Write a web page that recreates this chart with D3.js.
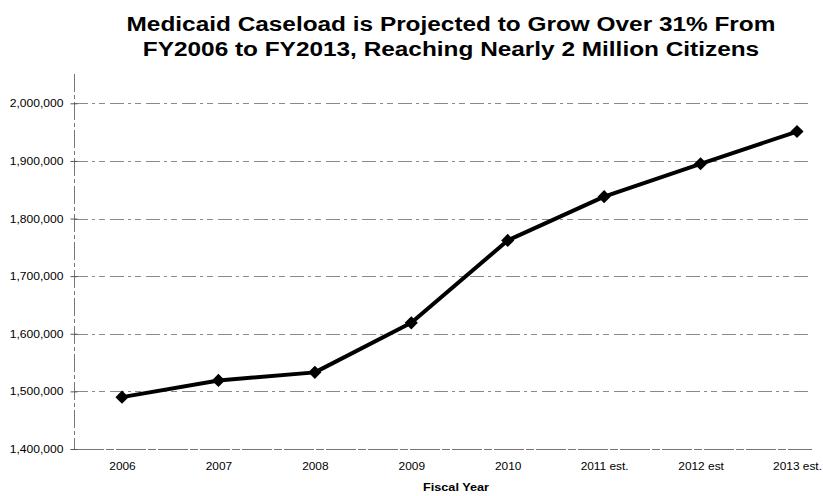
<!DOCTYPE html>
<html>
<head>
<meta charset="utf-8">
<script src="https://cdn.jsdelivr.net/npm/d3@7"></script>
<style>
  html, body { margin: 0; padding: 0; background: #fff; }
  svg { display: block; font-family: "Liberation Sans", Arial, sans-serif; }
</style>
</head>
<body>
<svg id="chart" width="823" height="496"></svg>
<script>
// Fiscal years and Medicaid caseload (actual through 2010, estimates after)
const years = ["2006", "2007", "2008", "2009", "2010", "2011 est.", "2012 est", "2013 est."];
const caseload = [1490000, 1519000, 1533000, 1619000, 1762000, 1838000, 1895000, 1951000];
const yTicks = [1400000, 1500000, 1600000, 1700000, 1800000, 1900000, 2000000];
const titleLines = [
  "Medicaid Caseload is Projected to Grow Over 31% From",
  "FY2006 to FY2013, Reaching Nearly 2 Million Citizens"
];
const xTitle = "Fiscal Year";

const svg = d3.select("#chart");
const plot = { left: 74, right: 812, top: 74, bottom: 449 };

const x = d3.scalePoint().domain(years).range([122, 797]);
const y = d3.scaleLinear().domain([1400000, 2050000]).range([plot.bottom, plot.top + 0.5]);

// Widen text glyphs horizontally by a factor (the chart uses a wide bold face)
function widen(sel, factor) {
  sel.each(function () {
    const w = this.getComputedTextLength();
    d3.select(this).attr("textLength", w * factor).attr("lengthAdjust", "spacingAndGlyphs");
  });
}

// Title
const title = svg.append("g").selectAll("text").data(titleLines).join("text")
  .attr("x", 451).attr("y", (d, i) => 31 + i * 25)
  .attr("text-anchor", "middle")
  .attr("font-size", 19.5).attr("font-weight", "bold").attr("fill", "#000")
  .text(d => d);
widen(title, 1.25);

// Horizontal gridlines
svg.append("g").selectAll("line").data(yTicks.slice(1)).join("line")
  .attr("x1", plot.left).attr("x2", plot.right)
  .attr("y1", d => Math.round(y(d)) + 0.5).attr("y2", d => Math.round(y(d)) + 0.5)
  .attr("stroke", "#8a8a8a").attr("stroke-width", 1)
  .attr("stroke-dasharray", "14,4,3,4,6,5");

// Baseline
svg.append("line")
  .attr("x1", plot.left).attr("x2", plot.right)
  .attr("y1", Math.round(y(1400000)) + 0.5).attr("y2", Math.round(y(1400000)) + 0.5)
  .attr("stroke", "#777").attr("stroke-width", 1)
  .attr("stroke-dasharray", "30,2,8,2");

// Y axis
const yAxis = d3.axisLeft(y).tickValues(yTicks)
  .tickFormat(d3.format(",")).tickSize(4).tickPadding(7);
const gy = svg.append("g").attr("transform", `translate(${plot.left + 0.5},0)`).call(yAxis);
gy.select(".domain").attr("stroke", "#777").attr("stroke-dasharray", "18,3,4,3")
  .attr("d", `M0,${plot.top}V${plot.bottom}`);
gy.selectAll(".tick line").attr("stroke", "#555").attr("x1", 3);
const yLabels = gy.selectAll(".tick text").attr("font-size", 11).attr("fill", "#000")
  .attr("font-family", "'Liberation Sans', Arial, sans-serif");
widen(yLabels, 1.1);

// X axis labels
const xAxis = d3.axisBottom(x).tickSize(0).tickPadding(13);
const gx = svg.append("g").attr("transform", `translate(0,${plot.bottom})`).call(xAxis);
gx.select(".domain").remove();
const xLabels = gx.selectAll(".tick text").attr("font-size", 11).attr("fill", "#000")
  .attr("font-family", "'Liberation Sans', Arial, sans-serif");
widen(xLabels, 1.08);

// X axis title
const xt = svg.append("text").attr("x", 456).attr("y", 491)
  .attr("text-anchor", "middle").attr("font-size", 11).attr("font-weight", "bold")
  .text(xTitle);
widen(xt, 1.15);

// Caseload line
const line = d3.line().x((d, i) => x(years[i])).y(d => y(d));
svg.append("path").datum(caseload)
  .attr("d", line).attr("fill", "none")
  .attr("stroke", "#000").attr("stroke-width", 4).attr("stroke-linejoin", "round");

// Diamond markers
svg.append("g").selectAll("path").data(caseload).join("path")
  .attr("transform", (d, i) => `translate(${x(years[i])},${y(d)})`)
  .attr("d", d3.symbol(d3.symbolDiamond2, 110)())
  .attr("fill", "#000");
</script>
</body>
</html>
